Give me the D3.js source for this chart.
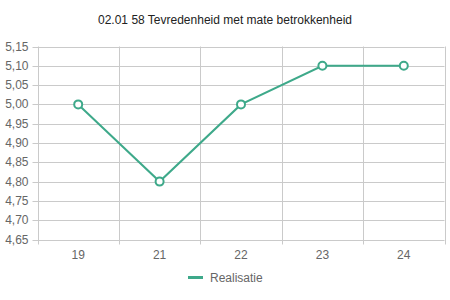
<!DOCTYPE html>
<html><head><meta charset="utf-8">
<script src="https://cdn.jsdelivr.net/npm/d3@7"></script>
<style>body{margin:0;background:#fff}svg{display:block}text{font-family:Arial,"Liberation Sans",sans-serif}</style>
</head><body><svg id="c" width="450" height="300"></svg>
<script>
const title = "02.01 58 Tevredenheid met mate betrokkenheid";
const categories = ["19","21","22","23","24"];
const values = [5.00, 4.80, 5.00, 5.10, 5.10];
const yTicks = [4.65,4.70,4.75,4.80,4.85,4.90,4.95,5.00,5.05,5.10,5.15];
const seriesName = "Realisatie";
const color = "#3ea98a";
const grid = "#cacaca";

const svg = d3.select("#c");
const L = 37.5, R = 444.5, T = 46.5, B = 239.5;
const x = d3.scaleBand().domain(categories).range([L, R]);
const y = d3.scaleLinear().domain([4.65, 5.15]).range([B, T]);
const fmt = v => d3.format(".2f")(v).replace(".", ",");

svg.append("text").attr("x", 225).attr("y", 24).attr("text-anchor","middle")
  .attr("font-size", 12).attr("fill", "#222").text(title);

// horizontal grid
svg.append("g").selectAll("line").data(yTicks).join("line")
  .attr("x1", L-5).attr("x2", R).attr("y1", d=>Math.round(y(d))+0.5).attr("y2", d=>Math.round(y(d))+0.5)
  .attr("stroke", grid).attr("stroke-width",1);
svg.append("g").selectAll("text").data(yTicks).join("text")
  .attr("x", L-9).attr("y", d=>y(d)+4).attr("text-anchor","end")
  .attr("font-size", 12).attr("fill","#666").text(fmt);

// vertical grid at band edges
const edges = categories.map(c=>x(c)).concat([R]);
svg.append("g").selectAll("line").data(edges).join("line")
  .attr("x1", d=>Math.round(d)+0.5).attr("x2", d=>Math.round(d)+0.5).attr("y1", T).attr("y2", B+5)
  .attr("stroke", grid).attr("stroke-width",1);
svg.append("g").selectAll("text").data(categories).join("text")
  .attr("x", d=>x(d)+x.bandwidth()/2).attr("y", 259).attr("text-anchor","middle")
  .attr("font-size", 12).attr("fill","#666").text(d=>d);

const cx = d => x(d) + x.bandwidth()/2;
const line = d3.line().x((d,i)=>cx(categories[i])).y(d=>y(d));
svg.append("path").datum(values).attr("d", line).attr("fill","none")
  .attr("stroke", color).attr("stroke-width", 2);
svg.append("g").selectAll("circle").data(values).join("circle")
  .attr("cx", (d,i)=>cx(categories[i])).attr("cy", d=>y(d)).attr("r", 4)
  .attr("fill","#fff").attr("stroke", color).attr("stroke-width", 2);

// legend
svg.append("rect").attr("x", 188).attr("y", 276).attr("width", 15).attr("height", 3).attr("fill", color);
svg.append("text").attr("x", 210).attr("y", 282).attr("font-size", 12).attr("fill","#666").text(seriesName);
</script></body></html>
